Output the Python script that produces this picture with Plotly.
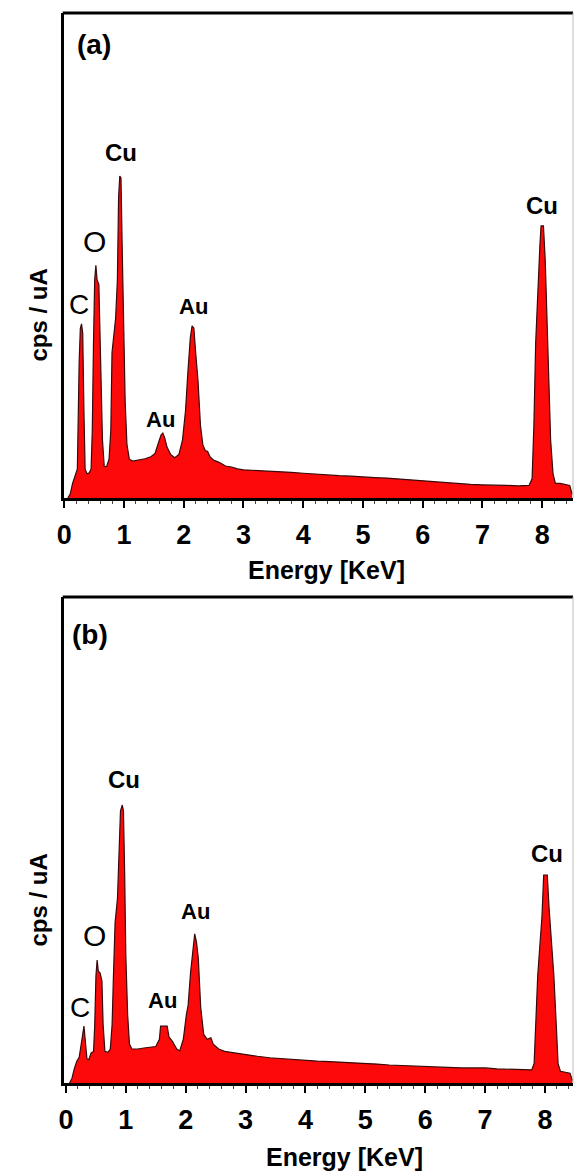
import plotly.graph_objects as go

# ---------------- data ----------------
energy_a = [0.06, 0.10, 0.14, 0.18, 0.22, 0.25, 0.27, 0.29, 0.31, 0.33, 0.35, 0.38, 0.42, 0.45,
            0.47, 0.49, 0.51, 0.53, 0.55, 0.58, 0.61, 0.64, 0.67, 0.71, 0.75, 0.78, 0.80, 0.83,
            0.86, 0.89, 0.91, 0.93, 0.95, 0.97, 0.99, 1.02, 1.05, 1.09, 1.15, 1.25, 1.35, 1.45,
            1.52, 1.58, 1.62, 1.65, 1.68, 1.72, 1.78, 1.85, 1.92, 1.98, 2.03, 2.07, 2.11, 2.14,
            2.17, 2.20, 2.24, 2.28, 2.32, 2.36, 2.40, 2.44, 2.50, 2.60, 2.70, 2.80, 2.90, 3.00,
            3.20, 3.40, 3.60, 3.80, 4.00, 4.20, 4.40, 4.60, 4.80, 5.00, 5.20, 5.40, 5.60, 5.80,
            6.00, 6.20, 6.40, 6.60, 6.80, 7.00, 7.20, 7.40, 7.60, 7.78, 7.83, 7.86, 7.89, 7.93,
            7.96, 7.98, 8.02, 8.05, 8.08, 8.11, 8.14, 8.18, 8.22, 8.30, 8.40, 8.46, 8.50]
counts_a = [0.0, 0.8, 3.0, 4.5, 6.0, 28.0, 35.0, 35.9, 34.0, 18.0, 6.0, 5.0, 5.2, 6.0,
            14.0, 32.0, 45.0, 48.0, 45.0, 44.0, 30.0, 12.0, 6.5, 6.5, 8.0, 14.0, 30.0, 34.0,
            37.0, 45.0, 62.0, 66.4, 66.0, 52.0, 35.0, 20.0, 11.0, 8.0, 7.6, 7.8, 8.1, 8.5,
            9.2, 11.5, 13.0, 13.4, 12.5, 10.5, 9.0, 8.3, 9.0, 12.0, 18.0, 26.0, 33.0, 35.5,
            35.0, 30.0, 24.0, 15.0, 11.0, 9.8, 9.6, 8.5, 7.8, 7.3, 6.6, 6.4, 6.0, 5.8,
            5.7, 5.5, 5.4, 5.3, 5.1, 4.9, 4.8, 4.6, 4.5, 4.3, 4.2, 4.1, 3.9, 3.7,
            3.6, 3.4, 3.2, 3.0, 2.8, 2.7, 2.7, 2.6, 2.5, 2.6, 4.0, 15.0, 32.0, 45.0,
            52.0, 56.1, 56.1, 49.0, 36.0, 22.0, 12.0, 5.0, 3.0, 3.0, 2.8, 2.6, 0.8]

energy_b = [0.06, 0.10, 0.14, 0.18, 0.22, 0.25, 0.28, 0.30, 0.32, 0.35, 0.38, 0.42, 0.46, 0.48,
            0.50, 0.52, 0.54, 0.57, 0.60, 0.62, 0.65, 0.70, 0.74, 0.77, 0.79, 0.82, 0.86, 0.88,
            0.91, 0.94, 0.96, 0.98, 1.00, 1.03, 1.06, 1.10, 1.20, 1.30, 1.40, 1.50, 1.56, 1.58,
            1.69, 1.72, 1.78, 1.85, 1.90, 1.96, 2.01, 2.04, 2.08, 2.12, 2.15, 2.18, 2.21, 2.25,
            2.30, 2.36, 2.42, 2.46, 2.55, 2.65, 2.80, 3.00, 3.20, 3.40, 3.60, 3.80, 4.00, 4.20,
            4.40, 4.60, 4.80, 5.00, 5.20, 5.40, 5.60, 5.80, 6.00, 6.20, 6.40, 6.60, 6.80, 7.00,
            7.20, 7.40, 7.60, 7.78, 7.82, 7.85, 7.88, 7.92, 7.95, 7.98, 8.04, 8.07, 8.11, 8.15,
            8.19, 8.22, 8.26, 8.35, 8.42, 8.46]
counts_b = [0.0, 1.0, 3.0, 4.5, 5.3, 8.0, 11.0, 11.7, 9.0, 5.0, 4.8, 6.2, 6.5, 12.0,
            22.0, 25.3, 23.0, 22.6, 21.0, 12.0, 6.5, 6.3, 7.0, 12.0, 21.0, 33.0, 38.0, 45.0,
            56.0, 57.2, 56.0, 43.0, 26.0, 14.0, 8.0, 7.0, 7.0, 7.2, 7.3, 7.5, 9.0, 11.7,
            11.7, 9.5, 8.5, 7.0, 6.6, 9.0, 14.0, 16.0, 22.6, 28.0, 30.7, 29.0, 25.7, 15.6,
            10.0, 9.0, 9.3, 8.0, 7.0, 6.5, 6.2, 5.8, 5.5, 5.2, 5.0, 4.9, 4.7, 4.5,
            4.4, 4.3, 4.2, 4.1, 3.9, 3.7, 3.6, 3.4, 3.3, 3.3, 3.2, 3.1, 3.1, 3.1,
            2.9, 2.8, 2.7, 2.7, 4.0, 12.0, 22.0, 29.0, 34.0, 42.8, 42.8, 36.0, 29.0, 22.0,
            12.0, 4.0, 2.4, 2.2, 2.0, 0.5]

tick_values = [0, 1, 2, 3, 4, 5, 6, 7, 8]
tick_labels = ["0", "1", "2", "3", "4", "5", "6", "7", "8"]

# ---------------- layout helpers ----------------
W, H = 575, 1175
def px(x):
    return x / W
def py(y):
    return 1 - y / H

FONT = "Liberation Sans, Arial, sans-serif"
RED = "#fc0a0a"
EDGE = "#3a0808"

fig = go.Figure()
fig.add_trace(go.Scatter(x=energy_a, y=counts_a, mode="lines", fill="tozeroy",
                         fillcolor=RED, line=dict(color=EDGE, width=1.2),
                         xaxis="x", yaxis="y", showlegend=False, hoverinfo="skip"))
fig.add_trace(go.Scatter(x=energy_b, y=counts_b, mode="lines", fill="tozeroy",
                         fillcolor=RED, line=dict(color=EDGE, width=1.2),
                         xaxis="x2", yaxis="y2", showlegend=False, hoverinfo="skip"))

L, R = 57, 573
panels = [
    dict(top=13, bottom=498, xr=[0, 8.515]),
    dict(top=597, bottom=1083, xr=[-0.03, 8.47]),
]

def xaxis_def(p, anchor):
    return dict(domain=[px(L), px(R)], range=p["xr"], anchor=anchor,
                showline=True, linecolor="black", linewidth=3,
                ticks="outside", ticklen=7, tickwidth=2, tickcolor="black",
                tickvals=tick_values, ticktext=tick_labels, ticklabelstandoff=4,
                tickfont=dict(family=FONT, size=27, color="black", weight="bold"),
                minor=dict(ticks="outside", ticklen=3, tickwidth=1, tickcolor="#444", dtick=0.2),
                showgrid=False, zeroline=False, fixedrange=True)

def yaxis_def(p, anchor):
    return dict(domain=[py(p["bottom"]), py(p["top"])], range=[0, 100], anchor=anchor,
                showline=True, linecolor="black", linewidth=3,
                ticks="", showticklabels=False, showgrid=False, zeroline=False,
                fixedrange=True)

shapes = []
for p in panels:
    shapes.append(dict(type="line", xref="paper", yref="paper",
                       x0=px(L - 1.5), x1=px(R), y0=py(p["top"]), y1=py(p["top"]),
                       line=dict(color="black", width=3)))
    shapes.append(dict(type="line", xref="paper", yref="paper",
                       x0=px(R), x1=px(R), y0=py(p["top"]), y1=py(p["bottom"]),
                       line=dict(color="#bbbbbb", width=1)))

def ann(text, x, y, size, bold=True, angle=0):
    return dict(text=text, xref="paper", yref="paper", x=px(x), y=py(y),
                xanchor="center", yanchor="middle", showarrow=False, textangle=angle,
                font=dict(family=FONT, size=size, color="black",
                          weight="bold" if bold else "normal"))

annotations = [
    # panel a
    ann("(a)", 87, 44, 28),
    ann("Cu", 115, 152, 24),
    ann("O", 88, 241, 30, bold=False),
    ann("C", 72, 304, 28, bold=False),
    ann("Au", 188, 306, 22),
    ann("Au", 155, 419, 22),
    ann("Cu", 542, 206, 24),
    ann("cps / uA", 30, 315, 24, angle=-90),
    ann("Energy [KeV]", 323, 570, 25),
    # panel b
    ann("(b)", 83, 634, 28),
    ann("Cu", 118, 779, 24),
    ann("O", 88, 935, 30, bold=False),
    ann("C", 73, 1007, 28, bold=False),
    ann("Au", 190, 911, 22),
    ann("Au", 157, 1000, 22),
    ann("Cu", 547, 853, 24),
    ann("cps / uA", 30, 900, 24, angle=-90),
    ann("Energy [KeV]", 341, 1157, 25),
]

fig.update_layout(
    width=W, height=H, autosize=False,
    margin=dict(l=0, r=0, t=0, b=0),
    paper_bgcolor="white", plot_bgcolor="white",
    xaxis=xaxis_def(panels[0], "y"),
    yaxis=yaxis_def(panels[0], "x"),
    xaxis2=xaxis_def(panels[1], "y2"),
    yaxis2=yaxis_def(panels[1], "x2"),
    shapes=shapes,
    annotations=annotations,
    showlegend=False,
)

fig.write_html("out.html", config={"displayModeBar": False},
               post_script="document.body.style.margin='0';document.body.style.overflow='hidden';")
